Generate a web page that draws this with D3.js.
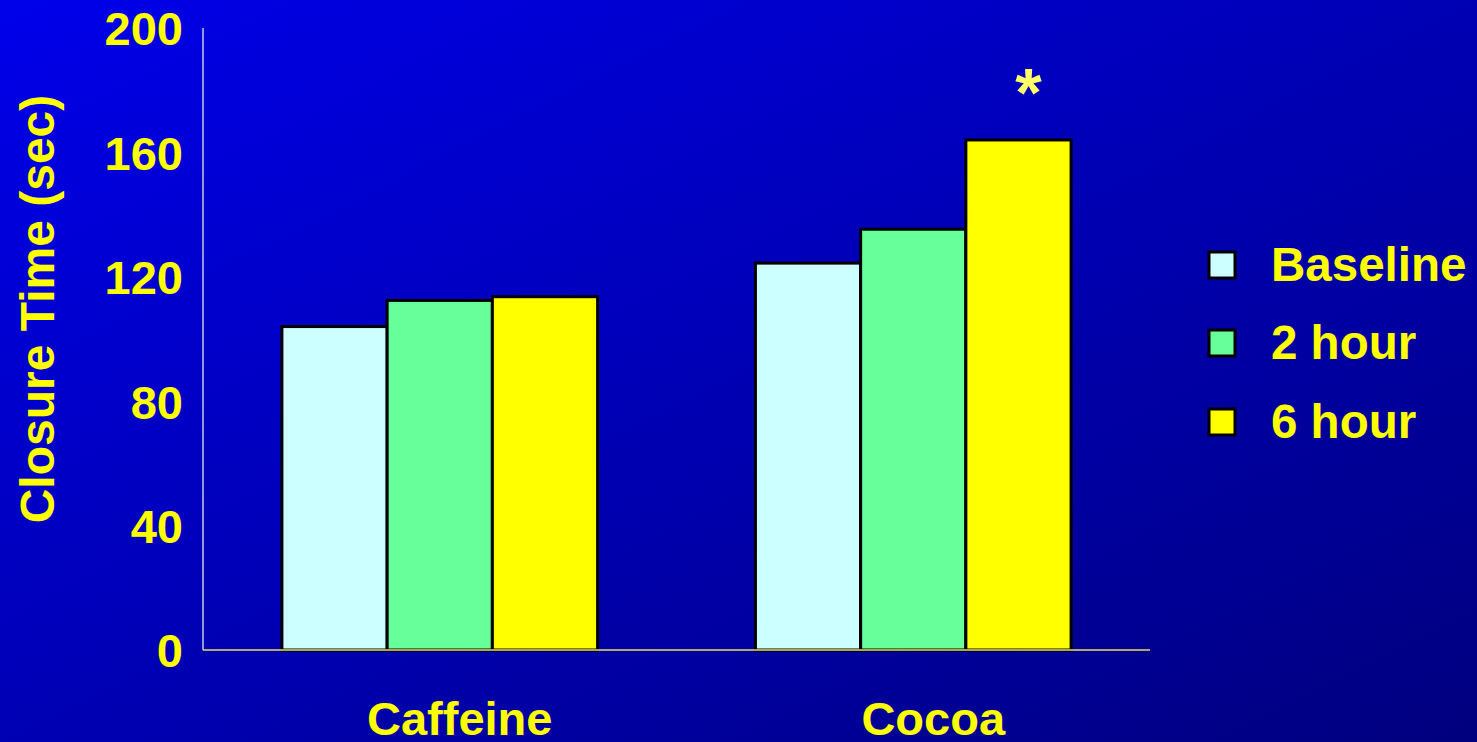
<!DOCTYPE html>
<html>
<head>
<meta charset="utf-8">
<script src="https://cdn.jsdelivr.net/npm/d3@7"></script>
<style>
  html, body { margin: 0; padding: 0; overflow: hidden; }
  svg { display: block; }
  text { font-family: "Liberation Sans", Arial, sans-serif; font-weight: bold; }
</style>
</head>
<body>
<svg id="chart" width="1477" height="742"></svg>
<script>
// Closure time by drink and time point
const categories = ["Caffeine", "Cocoa"];
const seriesNames = ["Baseline", "2 hour", "6 hour"];
const baselineValues = [104.0, 124.4];
const hour2Values = [112.4, 135.3];
const hour6Values = [113.6, 164.0];
const yTicks = [0, 40, 80, 120, 160, 200];
const seriesColors = ["#CCFFFF", "#66FF99", "#FFFF00"];
const significant = [false, true]; // marked with an asterisk on the 6 hour bar

const values = [baselineValues, hour2Values, hour6Values];

const svg = d3.select("#chart");
const W = 1477, H = 742;

// Background gradient
const defs = svg.append("defs");
const grad = defs.append("linearGradient")
  .attr("id", "bg").attr("x1", "0").attr("y1", "0").attr("x2", "1").attr("y2", "1");
grad.append("stop").attr("offset", "0%").attr("stop-color", "#0000EA");
grad.append("stop").attr("offset", "100%").attr("stop-color", "#00007E");
svg.append("rect").attr("width", W).attr("height", H).attr("fill", "url(#bg)");

const plotLeft = 203, plotRight = 1150, plotTop = 28, plotBottom = 650;

const x = d3.scaleBand().domain(categories).range([plotLeft, plotRight])
  .paddingInner(1 / 3).paddingOuter(1 / 6);
const xs = d3.scaleBand().domain(seriesNames).range([0, x.bandwidth()]).padding(0);
const y = d3.scaleLinear().domain([0, 200]).range([plotBottom, plotTop]);

// Y axis line
svg.append("line")
  .attr("x1", plotLeft).attr("x2", plotLeft).attr("y1", y(200)).attr("y2", y(0))
  .attr("stroke", "#C8C8D8").attr("stroke-width", 1.5);

// Y tick labels
const yAxis = d3.axisLeft(y).tickValues(yTicks).tickSize(0).tickPadding(20).tickFormat(d3.format("d"));
const gy = svg.append("g").attr("transform", `translate(${plotLeft},0)`).call(yAxis);
gy.select(".domain").remove();
gy.selectAll("text")
  .attr("fill", "#FFFF00").attr("font-size", 47).attr("dy", "0.36em")
  .style("font-family", "'Liberation Sans', Arial, sans-serif").style("font-weight", "bold");

// Bars
const groups = svg.append("g").selectAll("g").data(categories).join("g")
  .attr("transform", d => `translate(${x(d)},0)`);
groups.selectAll("rect")
  .data((c, ci) => seriesNames.map((s, si) => ({ s, si, v: values[si][ci] })))
  .join("rect")
  .attr("x", d => xs(d.s))
  .attr("y", d => y(d.v))
  .attr("width", xs.bandwidth())
  .attr("height", d => y(0) - y(d.v))
  .attr("fill", d => seriesColors[d.si])
  .attr("stroke", "#000").attr("stroke-width", 3);

// X axis line
svg.append("line")
  .attr("x1", plotLeft).attr("x2", plotRight).attr("y1", y(0)).attr("y2", y(0))
  .attr("stroke", "#E8E060").attr("stroke-width", 1.5);

// Category labels
svg.append("g").selectAll("text").data(categories).join("text")
  .attr("x", d => x(d) + x.bandwidth() / 2 + 20)
  .attr("y", 735)
  .attr("text-anchor", "middle")
  .attr("fill", "#FFFF00").attr("font-size", 47)
  .text(d => d);

// Significance marker
categories.forEach((c, ci) => {
  if (!significant[ci]) return;
  svg.append("text")
    .attr("x", x(c) + xs("6 hour") + xs.bandwidth() / 2 + 10)
    .attr("y", y(hour6Values[ci]) - 24)
    .attr("text-anchor", "middle")
    .attr("fill", "#FFFF66").attr("font-size", 68)
    .text("*");
});

// Y axis title
svg.append("text")
  .attr("transform", `translate(54,309) rotate(-90)`)
  .attr("text-anchor", "middle")
  .attr("fill", "#FFFF00").attr("font-size", 48)
  .text("Closure Time (sec)");

// Legend
const legendY = [265, 343, 422];
const leg = svg.append("g").selectAll("g").data(seriesNames).join("g")
  .attr("transform", (d, i) => `translate(1209,${legendY[i]})`);
leg.append("rect")
  .attr("x", 0).attr("y", -13).attr("width", 26).attr("height", 26)
  .attr("fill", (d, i) => seriesColors[i])
  .attr("stroke", "#000").attr("stroke-width", 3);
leg.append("text")
  .attr("x", 62).attr("y", 16)
  .attr("fill", "#FFFF00").attr("font-size", 47.5)
  .text(d => d);
</script>
</body>
</html>
